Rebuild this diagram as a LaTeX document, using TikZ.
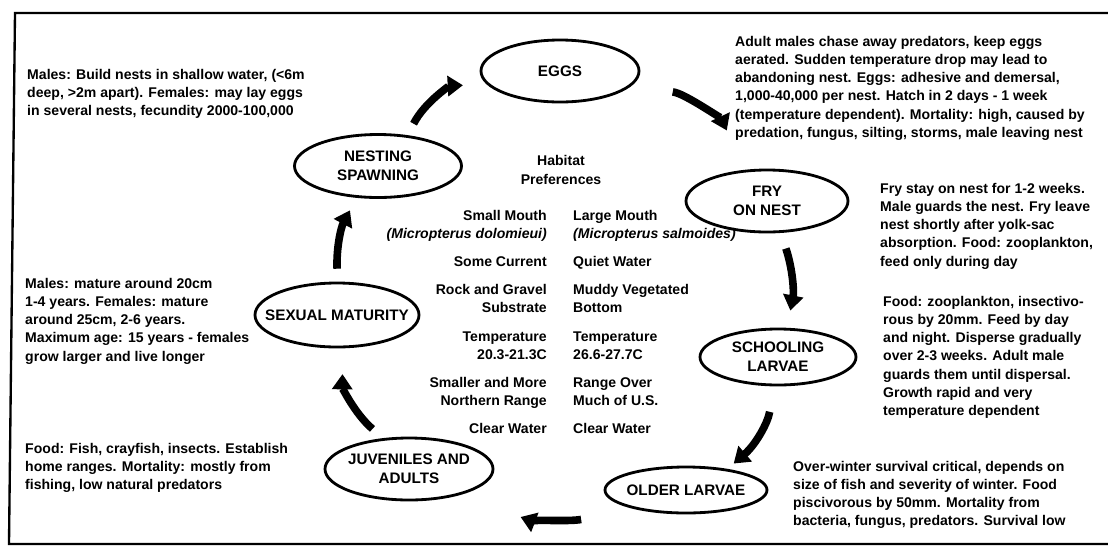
\documentclass[tikz,border=0pt]{standalone}
\usepackage{fontspec}
\setmainfont{Liberation Sans}
\usetikzlibrary{shapes.geometric, arrows.meta}
\newcommand{\drawStage}[6]{
	\node[stage, minimum width=#4cm, minimum height=#5cm, label={[stagetext]center:{#6}}] (#1) at (#2,#3) {};
}

\begin{document}
\begin{tikzpicture}[x=0.03cm, y=0.03cm,
	stage/.style={ellipse, draw, line width=2.4pt, inner sep=0pt},
	stagetext/.style={font=\fontsize{13}{16.5}\selectfont\bfseries, align=center},
	note/.style={anchor=north west, inner sep=0pt, align=left, font=\fontsize{12}{15.5}\selectfont\bfseries},
	habitat/.style={inner sep=0pt, font=\fontsize{12}{15.5}\selectfont\bfseries},
	cyclearrow/.style={line width=6.5pt, -{Triangle[length=13pt, width=17pt]}}]

	\useasboundingbox (0,0) rectangle (1108,-548);
	\draw[line width=2pt] (1108,-13) -- (15,-13) -- (9,-544) -- (1108,-544);

	% life stages, clockwise from the top
	\drawStage{eggs}  {560}{-71} {4.74}{1.86}{EGGS}
	\drawStage{fry}   {767}{-201}{4.86}{1.86}{FRY\\ON NEST}
	\drawStage{school}{778}{-357}{4.68}{1.68}{SCHOOLING\\LARVAE}
	\drawStage{older} {686}{-490}{4.86}{1.38}{OLDER LARVAE}
	\drawStage{juv}   {409}{-469}{5.04}{1.86}{JUVENILES AND\\ADULTS}
	\drawStage{sexual}{337}{-315}{4.92}{1.92}{SEXUAL MATURITY}
	\drawStage{nest}  {378}{-166}{5.01}{1.89}{NESTING\\SPAWNING}

	\draw[cyclearrow, shorten <=11pt, shorten >=20pt] (nest.46)    to[bend left=30] (eggs.190);
	\draw[cyclearrow, shorten <=38pt, shorten >=37pt] (eggs.-14)   to[bend left=30] (fry.125);
	\draw[cyclearrow, shorten <=14pt, shorten >=15pt] (fry.-67)    to[bend left=15] (school.73);
	\draw[cyclearrow, shorten <=22pt, shorten >=7pt]  (school.-98) to[bend left=20] (older.27);
	\draw[cyclearrow, shorten <=46pt, shorten >=54pt] (older.200)  to[bend left=16] (juv.-26);
	\draw[cyclearrow, shorten <=12pt, shorten >=22pt] (juv.130)    to[bend left=25] (sexual.-80);
	\draw[cyclearrow, shorten <=11pt, shorten >=12pt] (sexual.89)  to[bend left=15] (nest.236);

	% notes
	\node[note] (nestnote) at (27,-69) {Males: Build nests in shallow water, (<6m\\deep, >2m apart). Females: may lay eggs\\in several nests, fecundity 2000-100,000};
	\node[note] (eggsnote) at (735,-36) {Adult males chase away predators, keep eggs\\aerated. Sudden temperature drop may lead to\\abandoning nest. Eggs: adhesive and demersal,\\1,000-40,000 per nest. Hatch in 2 days - 1 week\\(temperature dependent). Mortality: high, caused by\\predation, fungus, silting, storms, male leaving nest};
	\node[note] (frynote) at (880,-183) {Fry stay on nest for 1-2 weeks.\\Male guards the nest. Fry leave\\nest shortly after yolk-sac\\absorption. Food: zooplankton,\\feed only during day};
	\node[note] (schoolnote) at (883,-296) {Food: zooplankton, insectivo-\\rous by 20mm. Feed by day\\and night. Disperse gradually\\over 2-3 weeks. Adult male\\guards them until dispersal.\\Growth rapid and very\\temperature dependent};
	\node[note] (oldernote) at (793,-461) {Over-winter survival critical, depends on\\size of fish and severity of winter. Food\\piscivorous by 50mm. Mortality from\\bacteria, fungus, predators. Survival low};
	\node[note] (juvnote) at (25,-443) {Food: Fish, crayfish, insects. Establish\\home ranges. Mortality: mostly from\\fishing, low natural predators};
	\node[note] (sexnote) at (25,-278) {Males: mature around 20cm\\1-4 years. Females: mature\\around 25cm, 2-6 years.\\Maximum age: 15 years - females\\grow larger and live longer};

	% habitat table in the middle
	\node[habitat, align=center] (habtitle) at (561,-170) {Habitat\\Preferences};
	\node[habitat, align=right, anchor=north east] (smallmouth) at (547,-210) {Small Mouth\\\textit{(Micropterus dolomieui)}\\[8.5pt]Some Current\\[8.5pt]Rock and Gravel\\Substrate\\[8.5pt]Temperature\\20.3-21.3C\\[8.5pt]Smaller and More\\Northern Range\\[8.5pt]Clear Water};
	\node[habitat, align=left, anchor=north west] (largemouth) at (573,-210) {Large Mouth\\\textit{(Micropterus salmoides)}\\[8.5pt]Quiet Water\\[8.5pt]Muddy Vegetated\\Bottom\\[8.5pt]Temperature\\26.6-27.7C\\[8.5pt]Range Over\\Much of U.S.\\[8.5pt]Clear Water};

\end{tikzpicture}
\end{document}
